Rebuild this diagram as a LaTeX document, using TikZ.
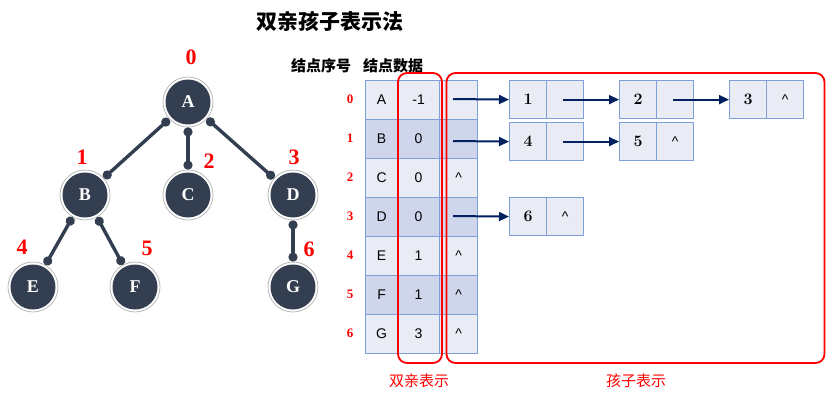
\documentclass[tikz,border=0pt]{standalone}
\usepackage{fontspec}
\usetikzlibrary{arrows.meta}
\newfontfamily\tnr{Liberation Serif}
\newfontfamily\arial{Liberation Sans}
\newfontfamily\cjk{Noto Sans CJK SC}
\definecolor{treefill}{HTML}{333F50}
\definecolor{navy}{HTML}{002060}
\definecolor{cellA}{HTML}{E9EBF5}
\definecolor{cellB}{HTML}{CFD5EA}
\definecolor{cellline}{HTML}{7F9FDA}
\tikzset{
  tnode/.style={circle, draw=gray!55, line width=0.8pt, fill=white, minimum size=50pt, inner sep=0pt,
    text=white, font=\tnr\bfseries\fontsize{18}{18}\selectfont,
    path picture={\fill[treefill] (path picture bounding box.center) circle (22.5pt);}},
  tedge/.style={draw=treefill, line width=3.4pt, {Circle[length=9pt]}-{Circle[length=9pt]}},
  tnum/.style={text=red, font=\tnr\bfseries\fontsize{22}{22}\selectfont, inner sep=0pt},
  rnum/.style={text=red, font=\tnr\bfseries\fontsize{13}{13}\selectfont, inner sep=0pt},
  cell/.style={draw=cellline, line width=1.2pt, minimum height=39pt, inner sep=0pt, anchor=north west,
    font=\arial\fontsize{14}{14}\selectfont},
  ccell/.style={draw=cellline, line width=1.2pt, fill=cellA, minimum width=37pt, minimum height=38pt,
    inner sep=0pt, anchor=north west},
  cdig/.style={font=\bfseries\fontsize{16}{16}\selectfont},
  ccar/.style={font=\arial\fontsize{14}{14}\selectfont},
  arr/.style={draw=navy, line width=2pt, -{Triangle[length=10pt,width=9pt]}},
  redbox/.style={draw=red, line width=1.8pt, rounded corners=9pt, inner sep=0pt},
  redlab/.style={text=red, font=\cjk\fontsize{15}{15}\selectfont},
}
\begin{document}
\begin{tikzpicture}[x=1pt,y=-1pt]
\useasboundingbox (0,0) rectangle (827,400);
% title
\node[font=\cjk\bfseries\fontsize{21}{21}\selectfont] (title) at (330,21) {双亲孩子表示法};
% tree
\node[tnode] (A) at (188,102) {A};
\node[tnode] (B) at (85,195) {B};
\node[tnode] (C) at (188,195) {C};
\node[tnode] (D) at (293,195) {D};
\node[tnode] (E) at (33,287) {E};
\node[tnode] (F) at (135,287) {F};
\node[tnode] (G) at (293,287) {G};
\draw[tedge] (A) -- (B);
\draw[tedge] (A) -- (C);
\draw[tedge] (A) -- (D);
\draw[tedge] (B) -- (E);
\draw[tedge] (B) -- (F);
\draw[tedge] (D) -- (G);
\node[tnum] (n0) at (191,57) {0};
\node[tnum] (n1) at (82,157) {1};
\node[tnum] (n2) at (209,161) {2};
\node[tnum] (n3) at (294,157) {3};
\node[tnum] (n4) at (22,247) {4};
\node[tnum] (n5) at (147,248) {5};
\node[tnum] (n6) at (309,249) {6};
% headers
\node[font=\cjk\bfseries\fontsize{15}{15}\selectfont] (h1) at (321,66) {结点序号};
\node[font=\cjk\bfseries\fontsize{15}{15}\selectfont] (h2) at (393,66) {结点数据};
% table
\foreach \i/\l/\p/\c/\f in {0/A/-1//cellA,1/B/0//cellB,2/C/0/\textasciicircum/cellA,3/D/0//cellB,4/E/1/\textasciicircum/cellA,5/F/1/\textasciicircum/cellB,6/G/3/\textasciicircum/cellA}{
  \pgfmathsetmacro\yt{80+39*\i}
  \pgfmathsetmacro\yc{99.5+39*\i}
  \node[cell, fill=\f, minimum width=32pt] (ra\i) at (365,\yt) {\l};
  \node[cell, fill=\f, minimum width=42pt] (rb\i) at (397,\yt) {\p};
  \node[cell, fill=\f, minimum width=38pt] (rc\i) at (439,\yt) {\c};
  \node[rnum] (ri\i) at (350,\yc) {\i};
}
% child lists
\node[ccell, cdig] (c1a) at (509,80) {1};
\node[ccell] (c1b) at (546,80) {};
\node[ccell, cdig] (c2a) at (619,80) {2};
\node[ccell] (c2b) at (656,80) {};
\node[ccell, cdig] (c3a) at (729,80) {3};
\node[ccell, ccar] (c3b) at (766,80) {\textasciicircum};
\node[ccell, cdig] (c4a) at (509,122) {4};
\node[ccell] (c4b) at (546,122) {};
\node[ccell, cdig] (c5a) at (619,122) {5};
\node[ccell, ccar] (c5b) at (656,122) {\textasciicircum};
\node[ccell, cdig] (c6a) at (509,197) {6};
\node[ccell, ccar] (c6b) at (546,197) {\textasciicircum};
\coordinate (s0) at (453,99);
\coordinate (s1) at (453,141);
\coordinate (s3) at (453,216);
\draw[arr] (s0) -- (c1a.west);
\draw[arr] (s1) -- (c4a.west);
\draw[arr] (s3) -- (c6a.west);
\draw[arr] ([xshift=-2pt]c1b.center) -- (c2a.west);
\draw[arr] ([xshift=-2pt]c2b.center) -- (c3a.west);
\draw[arr] ([xshift=-2pt]c4b.center) -- (c5a.west);
% red boxes
\node[redbox, minimum width=44pt, minimum height=290pt] (pbox) at (420,218) {};
\node[redbox, minimum width=378pt, minimum height=290pt] (cbox) at (635.5,218) {};
\node[redlab] (plab) at (419,381) {双亲表示};
\node[redlab] (clab) at (636,381) {孩子表示};
\end{tikzpicture}
\end{document}
